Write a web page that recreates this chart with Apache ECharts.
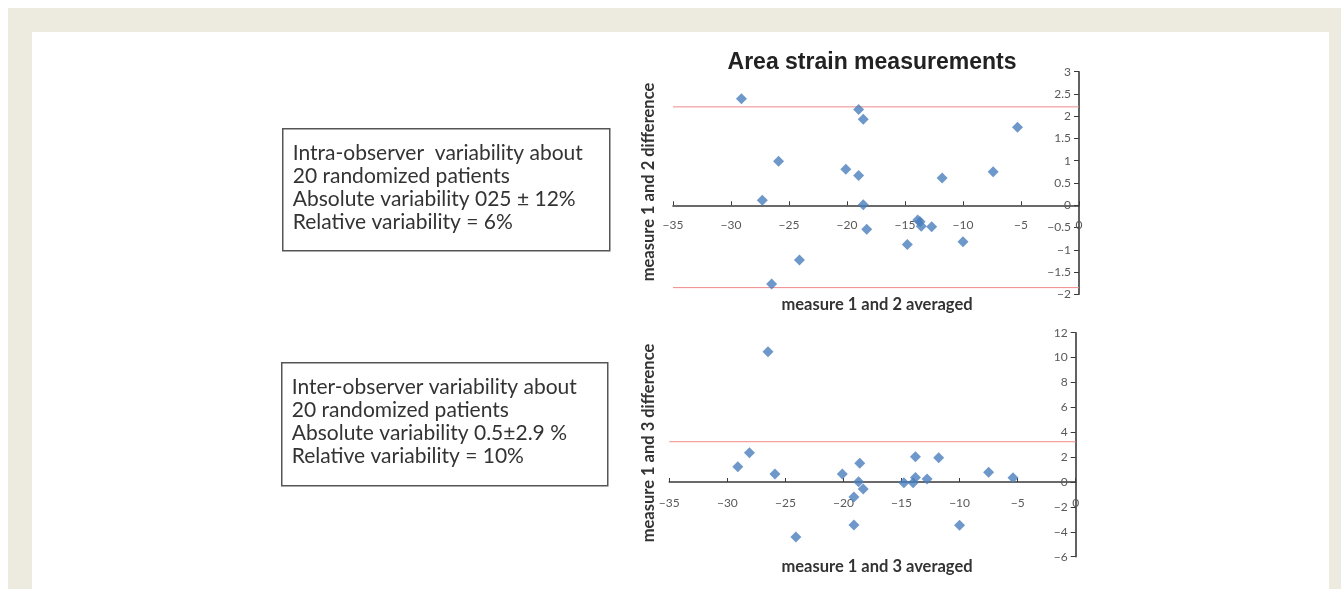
<!DOCTYPE html>
<html>
<head>
<meta charset="utf-8">
<script src="https://cdn.jsdelivr.net/npm/echarts@6/dist/echarts.min.js"></script>
<style>
  html, body { margin: 0; padding: 0; background: #fff; }
  #frame { position: absolute; left: 8px; top: 8px; width: 1333px; height: 581px; background: #edeae0; }
  #panel { position: absolute; left: 32px; top: 32px; width: 1297px; height: 557px; background: #fff; }
  #main { position: absolute; left: 0; top: 0; width: 1341px; height: 589px; }
</style>
</head>
<body>
<div id="frame"></div>
<div id="panel"></div>
<div id="main"></div>
<script>
// intra-observer: measure 1 vs 2
var intraAvg  = [-29.1, -19.0, -18.6, -5.3, -25.9, -20.1, -19.0, -11.8, -7.4, -27.3, -18.6, -18.3, -13.9, -13.7, -13.6, -12.7, -14.8, -10.0, -24.1, -26.5];
var intraDiff = [2.39, 2.15, 1.93, 1.75, 0.99, 0.81, 0.67, 0.61, 0.75, 0.11, 0.01, -0.54, -0.33, -0.37, -0.47, -0.48, -0.88, -0.82, -1.23, -1.77];
var intraLimits = [2.21, -1.85];

// inter-observer: measure 1 vs 3
var interAvg  = [-26.5, -28.1, -29.1, -25.9, -20.1, -18.6, -18.7, -18.3, -19.1, -19.1, -24.1, -14.8, -14.0, -13.8, -13.8, -12.8, -11.8, -7.5, -5.4, -10.0];
var interDiff = [10.47, 2.36, 1.23, 0.64, 0.64, 1.5, 0.03, -0.56, -1.2, -3.46, -4.42, -0.05, -0.05, 0.37, 2.04, 0.24, 1.96, 0.78, 0.35, -3.48];
var interLimits = [3.24];

var xTicks = { min: -35, max: 0, interval: 5 };
var yTicksTop = { min: -2, max: 3, interval: 0.5 };
var yTicksBottom = { min: -6, max: 12, interval: 2 };

var boxTop = ['Intra-observer  variability about', '20 randomized patients', 'Absolute variability 025 \u00b1 12%', 'Relative variability = 6%'];
var boxBottom = ['Inter-observer variability about', '20 randomized patients', 'Absolute variability 0.5\u00b12.9 %', 'Relative variability = 10%'];

function zip(a, b) {
  var out = [];
  for (var i = 0; i < a.length; i++) out.push([a[i], b[i]]);
  return out;
}

function minus(v) {
  return String(v).replace('-', '\u2212');
}

var axisLineStyle = { color: '#3a3a3a', width: 1.6 };
var labelStyle = { color: '#595959', fontSize: 12, fontFamily: 'Lato', formatter: minus };

// x axis sits on y = 0, pulled up from the grid bottom by offset
function xAxisFor(gridIndex, offset, margin) {
  return {
    type: 'value', gridIndex: gridIndex, position: 'bottom', offset: offset,
    min: xTicks.min, max: xTicks.max, interval: xTicks.interval,
    axisLine: { onZero: false, lineStyle: axisLineStyle },
    axisTick: { inside: true, length: 4, lineStyle: { color: '#3a3a3a' } },
    axisLabel: Object.assign({ margin: margin }, labelStyle),
    splitLine: { show: false }
  };
}

function yAxisFor(gridIndex, t) {
  return {
    type: 'value', gridIndex: gridIndex, position: 'right',
    min: t.min, max: t.max, interval: t.interval,
    axisLine: { show: true, onZero: false, lineStyle: axisLineStyle },
    axisTick: { show: true, inside: true, length: 5, lineStyle: { color: '#3a3a3a' } },
    axisLabel: Object.assign({ inside: true, margin: 8 }, labelStyle),
    splitLine: { show: false }
  };
}

// limit of agreement lines, drawn across the whole x range
function limitSeries(values, axisIndex) {
  return values.map(function (v) {
    return {
      type: 'line', xAxisIndex: axisIndex, yAxisIndex: axisIndex,
      symbol: 'none', silent: true, z: 1,
      lineStyle: { color: '#f08a8a', width: 1 },
      data: [[xTicks.min, v], [xTicks.max, v]]
    };
  });
}

function textBox(x, y, w, h, lines) {
  var children = [{
    type: 'rect', shape: { x: 0, y: 0, width: w, height: h },
    style: { fill: '#fff', stroke: '#555', lineWidth: 1.5 }
  }];
  lines.forEach(function (s, i) {
    children.push({
      type: 'text', x: 10, y: 24 + i * 23.2,
      style: { text: s, fill: '#333', font: '21px Lato', textVerticalAlign: 'middle' }
    });
  });
  return { type: 'group', left: x, top: y, children: children };
}

var chart = echarts.init(document.getElementById('main'));

var series = [
  {
    type: 'scatter', xAxisIndex: 0, yAxisIndex: 0, z: 3,
    symbol: 'diamond', symbolSize: 11,
    itemStyle: { color: '#4a7ebb' },
    data: zip(intraAvg, intraDiff)
  },
  {
    type: 'scatter', xAxisIndex: 1, yAxisIndex: 1, z: 3,
    symbol: 'diamond', symbolSize: 11,
    itemStyle: { color: '#4a7ebb' },
    data: zip(interAvg, interDiff)
  }
].concat(limitSeries(intraLimits, 0), limitSeries(interLimits, 1));

var option = {
  backgroundColor: 'transparent',
  animation: false,
  title: {
    text: 'Area strain measurements', left: 867, top: 46, textAlign: 'center',
    textStyle: { fontFamily: 'Liberation Sans', fontWeight: 'bold', fontSize: 23, color: '#222' }
  },
  grid: [
    { left: 673, right: 262, top: 71.7, bottom: 294.7 },
    { left: 669.3, right: 265.3, top: 332.7, bottom: 32.3 }
  ],
  xAxis: [xAxisFor(0, -89, 14), xAxisFor(1, -74.7, 15)],
  yAxis: [yAxisFor(0, yTicksTop), yAxisFor(1, yTicksBottom)],
  series: series,
  graphic: [
    textBox(282, 128, 327, 122, boxTop),
    textBox(281, 362, 326, 123, boxBottom),
    {
      type: 'text', x: 877, y: 305,
      style: { text: 'measure 1 and 2 averaged', font: 'bold 16.5px Lato', fill: '#333', textAlign: 'center', textVerticalAlign: 'middle' }
    },
    {
      type: 'text', x: 877, y: 567,
      style: { text: 'measure 1 and 3 averaged', font: 'bold 16.5px Lato', fill: '#333', textAlign: 'center', textVerticalAlign: 'middle' }
    },
    {
      type: 'text', x: 649, y: 182, rotation: Math.PI / 2,
      style: { text: 'measure 1 and 2 difference', font: 'bold 16.5px Lato', fill: '#333', textAlign: 'center', textVerticalAlign: 'middle' }
    },
    {
      type: 'text', x: 649, y: 443, rotation: Math.PI / 2,
      style: { text: 'measure 1 and 3 difference', font: 'bold 16.5px Lato', fill: '#333', textAlign: 'center', textVerticalAlign: 'middle' }
    }
  ]
};

chart.setOption(option);
</script>
</body>
</html>
